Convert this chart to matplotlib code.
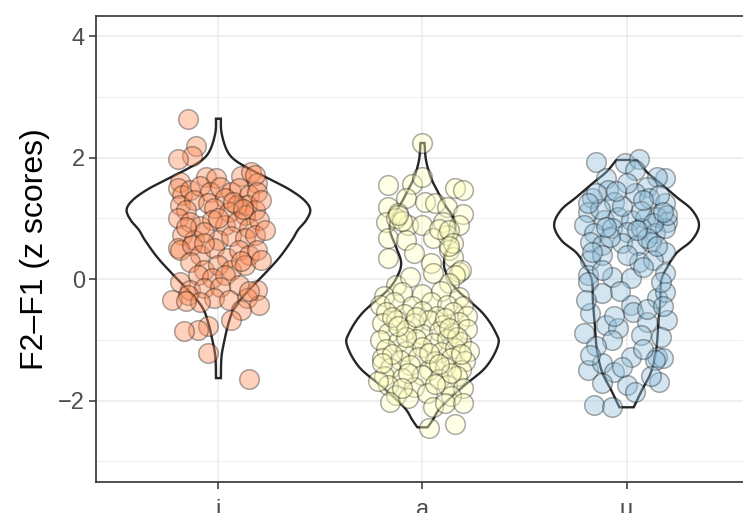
import numpy as np
import matplotlib
matplotlib.use('Agg')
import matplotlib.pyplot as plt

plt.rcParams['font.family'] = ['Liberation Sans', 'DejaVu Sans']

vowels = ['i', 'a', 'u']
fills = ['#fc8d59', '#ffffbf', '#91bfdb']

# jittered tokens: horizontal offset from the category, F2-F1 z score
i_jit = [-0.15, -0.11, -0.13, -0.20, -0.19, -0.06, -0.01, 0.11, 0.16, 0.19, 0.18,
         -0.20, -0.18, -0.14, -0.09, -0.04, 0.01, 0.06, 0.10, 0.15, 0.19,
         -0.19, -0.12, -0.05, 0.03, 0.09, 0.14, 0.18, 0.21, -0.16, -0.02, 0.05, 0.13,
         -0.20, -0.14, -0.09, -0.03, 0.03, 0.09, 0.15, 0.20, -0.18, -0.12, 0.00, 0.06, 0.13, 0.18, 0.23, -0.20, -0.07,
         -0.19, -0.13, -0.09, -0.02, 0.04, 0.10, 0.15, 0.19, -0.14, -0.07, 0.00, 0.06, 0.13, 0.21, -0.10, -0.03, 0.03,
         -0.19, -0.14, -0.07, 0.01, 0.10, 0.19, -0.23, -0.02, 0.05, 0.14, 0.20, -0.15, -0.09, -0.16, 0.11, 0.06,
         -0.05, -0.10, -0.17, -0.05, 0.15, 0.15,
         0.00, 0.07, -0.07, 0.11, -0.16, 0.12]
i_val = [2.64, 2.19, 2.03, 1.98, 1.60, 1.68, 1.66, 1.70, 1.76, 1.58, 1.71,
         1.50, 1.38, 1.47, 1.53, 1.43, 1.52, 1.43, 1.50, 1.38, 1.43,
         1.22, 1.30, 1.25, 1.33, 1.22, 1.22, 1.14, 1.30, 1.14, 1.17, 1.10, 1.05,
         1.00, 0.94, 0.87, 0.97, 0.89, 0.94, 0.84, 0.97, 0.72, 0.64, 0.64, 0.71, 0.68, 0.72, 0.81, 0.51, 0.77,
         0.48, 0.56, 0.40, 0.51, 0.35, 0.48, 0.40, 0.48, 0.28, 0.15, 0.23, 0.15, 0.23, 0.31, 0.07, 0.02, 0.07,
         -0.05, -0.18, -0.15, -0.13, -0.10, -0.18, -0.35, -0.31, -0.35, -0.31, -0.43, -0.26, -0.38, -0.36, -0.51, -0.68,
         -0.77, -0.84, -0.86, -1.22, -1.65, -0.20,
         1.00, 1.27, 0.60, 0.30, 0.85, 1.15]

a_jit = [0.00, -0.17, -0.05, 0.00, 0.16, 0.20, -0.17, -0.08, 0.01, 0.06, 0.12, 0.20,
         -0.18, -0.12, -0.07, 0.00, 0.10, 0.18, -0.17, -0.08, 0.05, 0.12,
         -0.17, -0.04, 0.04, 0.13, 0.15, 0.18,
         -0.13, -0.10, 0.08, 0.13, 0.15, 0.13, -0.12, 0.19,
         -0.13, -0.06, 0.16, 0.13, 0.05,
         -0.19, -0.10, 0.00, 0.09, 0.18,
         -0.21, -0.14, -0.05, 0.04, 0.12, 0.20,
         -0.18, -0.09, 0.00, 0.07, 0.15, 0.22,
         -0.20, -0.13, -0.04, 0.03, 0.10, 0.18,
         -0.17, -0.08, 0.00, 0.08, 0.15, 0.22,
         -0.21, -0.12, -0.03, 0.05, 0.12, 0.19,
         -0.18, -0.08, 0.00, 0.09, 0.16, 0.23,
         -0.20, -0.11, -0.02, 0.06, 0.14, 0.21,
         -0.16, -0.06, 0.03, 0.11, 0.19,
         -0.19, -0.10, 0.00, 0.08, 0.17,
         -0.17, -0.04, 0.12, 0.20,
         -0.13, 0.02, 0.14,
         -0.16, -0.07, 0.05, 0.11, 0.20, 0.03, 0.16, -0.22,
         -0.15, 0.11, -0.08, 0.17, -0.15, 0.03, 0.19, -0.07, 0.14, -0.20, 0.08, -0.10, 0.06, -0.03, -0.12, 0.13]
a_val = [2.24, 1.55, 1.57, 1.68, 1.50, 1.47, 1.19, 1.33, 1.27, 1.25, 1.19, 1.07,
         0.94, 1.09, 0.89, 0.89, 0.94, 0.89, 0.68, 0.64, 0.68, 0.72,
         0.35, 0.43, 0.26, 0.48, 0.36, 0.12,
         1.00, 0.95, 0.83, 0.80, 0.60, 0.55, 1.05, 0.15,
         -0.10, 0.03, 0.07, -0.07, 0.10,
         -0.28, -0.22, -0.25, -0.20, -0.30,
         -0.42, -0.38, -0.45, -0.38, -0.42, -0.45,
         -0.55, -0.58, -0.52, -0.60, -0.55, -0.60,
         -0.72, -0.68, -0.72, -0.68, -0.75, -0.70,
         -0.88, -0.84, -0.90, -0.85, -0.88, -0.82,
         -1.00, -1.03, -0.98, -1.05, -0.98, -1.04,
         -1.15, -1.18, -1.12, -1.20, -1.13, -1.18,
         -1.30, -1.33, -1.28, -1.35, -1.30, -1.35,
         -1.47, -1.42, -1.50, -1.45, -1.50,
         -1.60, -1.63, -1.58, -1.65, -1.60,
         -1.75, -1.78, -1.75, -1.80,
         -1.90, -1.88, -1.92,
         -2.03, -1.96, -2.11, -2.04, -2.04, -2.45, -2.39, -1.68,
         -0.62, -0.64, -0.95, -0.95, -1.24, -1.22, -1.24, -1.55, -1.55, -1.38, -1.40, -1.80, -1.72, -0.62, -0.78, -0.80]

u_jit = [-0.15, -0.01, 0.06, 0.04, 0.19, 0.15, -0.10, -0.09, 0.10, -0.17, -0.06, 0.04, 0.11, 0.19,
         -0.19, -0.11, -0.04, 0.02, 0.09, 0.15, 0.20, -0.21, -0.16, -0.07, 0.00, 0.07, 0.14, 0.19,
         -0.18, -0.12, -0.02, 0.05, 0.12, 0.19, -0.18, -0.12, 0.06, 0.13, 0.19, -0.19, -0.07, 0.02,
         -0.19, -0.12, 0.02, 0.15, 0.19, -0.18, -0.10, 0.03, 0.10, 0.20, -0.21, -0.04, 0.07, 0.17,
         -0.07, 0.02, 0.15, -0.19, -0.12, -0.06, 0.16, -0.12, 0.00, 0.04, -0.16, -0.07, 0.18, 0.14,
         -0.13, 0.07, 0.13, -0.08, 0.10, -0.02, 0.16, -0.15, 0.00, 0.20,
         -0.19, -0.05, 0.08, 0.18, -0.10, 0.05, -0.17, 0.00, 0.15, -0.12, 0.08, 0.17, -0.03, -0.20,
         0.10, -0.06, 0.18, -0.15, 0.08, -0.02, 0.12, -0.18]
u_val = [1.93, 1.91, 1.98, 1.80, 1.66, 1.68, 1.66, 1.47, 1.52, 1.33, 1.27, 1.42, 1.33, 1.25,
         1.10, 0.97, 1.02, 0.97, 1.00, 1.02, 0.94, 0.89, 0.76, 0.84, 0.77, 0.84, 0.76, 0.84,
         0.61, 0.56, 0.59, 0.56, 0.61, 0.44, 0.31, 0.40, 0.28, 0.31, 0.10, 0.07, 0.03, 0.02,
         -0.05, -0.23, -0.43, -0.31, -0.21, -0.56, -0.76, -0.54, -0.71, -0.68, -0.89, -0.81, -0.92, -0.96,
         -1.00, -1.28, -1.28, -1.50, -1.38, -1.53, -1.70, -1.71, -1.75, -1.86, -2.08, -2.11, -1.30, -1.33,
         1.15, 1.12, 0.93, 0.70, 0.68, 1.20, 1.38, 1.42, 1.58, 1.05,
         1.25, 1.45, 1.30, 1.10, 0.85, 0.80, 0.45, 0.40, 0.55, 0.15, 0.20, -0.05, -0.20, -0.35,
         -0.50, -0.60, -0.45, -1.10, -1.15, -1.45, -1.60, -1.25]

# violin outlines: y level and half width (category units)
i_vy = [2.64, 2.41, 2.13, 1.96, 1.80, 1.63, 1.47, 1.30, 1.14, 0.97, 0.81, 0.64, 0.36, 0.10,
        -0.18, -0.46, -0.72, -1.00, -1.28, -1.63]
i_vw = [0.012, 0.015, 0.04, 0.08, 0.16, 0.26, 0.35, 0.42, 0.45, 0.43, 0.39, 0.36, 0.30, 0.23,
        0.15, 0.08, 0.05, 0.03, 0.015, 0.012]
a_vy = [2.24, 1.96, 1.68, 1.47, 1.22, 1.02, 0.81, 0.53, 0.28, 0.07, -0.18, -0.56, -0.89, -1.09,
        -1.45, -1.78, -2.11, -2.32, -2.44]
a_vw = [0.01, 0.017, 0.04, 0.07, 0.11, 0.15, 0.16, 0.13, 0.105, 0.12, 0.17, 0.295, 0.36, 0.37,
        0.31, 0.195, 0.09, 0.05, 0.025]
u_vy = [1.96, 1.76, 1.58, 1.35, 1.14, 0.89, 0.64, 0.43, 0.20, -0.02, -0.35, -0.79, -1.17, -1.53,
        -1.83, -2.11]
u_vw = [0.05, 0.10, 0.165, 0.245, 0.32, 0.355, 0.32, 0.245, 0.20, 0.17, 0.165, 0.155, 0.145, 0.12,
        0.075, 0.035]


def spline(ys, ws, n=12):
    # catmull-rom through the outline points
    p = np.column_stack([ys, ws])
    p = np.vstack([p[0], p, p[-1]])
    t = np.linspace(0, 1, n, endpoint=False)[:, None]
    out = []
    for k in range(1, len(p) - 2):
        p0, p1, p2, p3 = p[k - 1], p[k], p[k + 1], p[k + 2]
        out.append(0.5 * (2 * p1 + (p2 - p0) * t + (2 * p0 - 5 * p1 + 4 * p2 - p3) * t ** 2
                          + (3 * p1 - p0 - 3 * p2 + p3) * t ** 3))
    out.append(p[-2][None])
    s = np.vstack(out)
    return s[:, 0], s[:, 1]


fig = plt.figure(figsize=(7.43, 5.13), dpi=100)
ax = fig.add_axes([96 / 743, 31 / 513, 653 / 743, 466 / 513])

groups = [(i_jit, i_val, i_vy, i_vw), (a_jit, a_val, a_vy, a_vw), (u_jit, u_val, u_vy, u_vw)]
for k, (jit, val, vy, vw) in enumerate(groups):
    c = k + 1
    yy, ww = spline(vy, vw)
    ax.fill(np.r_[c + ww, (c - ww)[::-1]], np.r_[yy, yy[::-1]],
            facecolor='none', edgecolor='#262626', lw=1.7, zorder=2)
    col = matplotlib.colors.to_rgb(fills[k])
    ax.scatter(c + np.array(jit), np.array(val), s=200, facecolor=col + (0.4,),
               edgecolor=(0, 0, 0, 0.33), lw=1.1, zorder=3)

ax.set_xlim(0.4, 3.6)
ax.set_ylim(-3.34, 4.33)
ax.set_xticks([1, 2, 3])
ax.set_xticklabels(vowels)
ax.set_yticks([-2, 0, 2, 4])
ax.set_yticks([-3, -1, 1, 3], minor=True)
ax.grid(True, which='major', color='#ebebeb', lw=1.1, zorder=0)
ax.grid(True, which='minor', axis='y', color='#ebebeb', lw=0.6, zorder=0)
ax.set_axisbelow(True)
ax.tick_params(which='major', length=5, width=1.1, color='#333333', labelsize=17,
               labelcolor='#4d4d4d', pad=3)
ax.tick_params(axis='x', pad=7)
ax.tick_params(which='minor', length=0)
for sp in ax.spines.values():
    sp.set_color('#333333')
    sp.set_linewidth(1.2)
ax.set_ylabel('F2–F1 (z scores)', fontsize=23, labelpad=6)

fig.savefig('out.png', dpi=100)
